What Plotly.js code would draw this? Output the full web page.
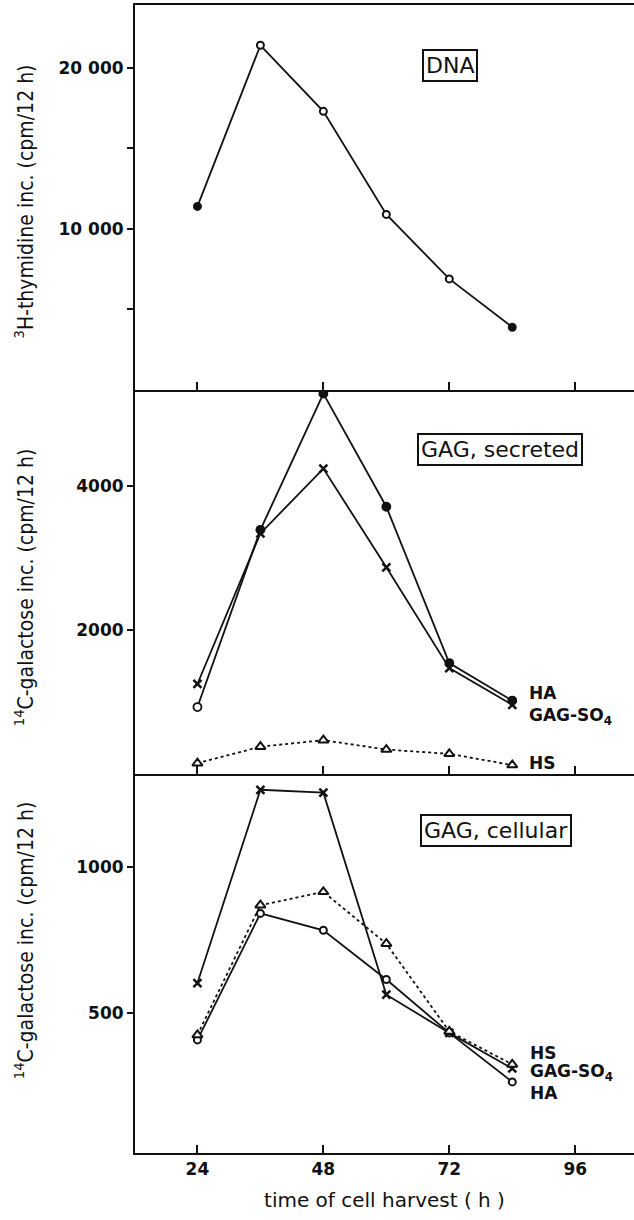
<!DOCTYPE html>
<html>
<head>
<meta charset="utf-8">
<script src="https://cdn.plot.ly/plotly-3.0.1.min.js"></script>
<style>html,body{margin:0;padding:0;background:#fff}#chart{width:634px;height:1220px}</style>
</head>
<body>
<div id="chart"></div>
<script>
// ---- data ----
const hours = [24, 36, 48, 60, 72, 84];
const xTicks = [24, 48, 72, 96];

// DNA: 3H-thymidine incorporation (cpm/12 h)
const dnaValues = [11400, 21400, 17300, 10900, 6900, 3900];

// GAG secreted: 14C-galactose incorporation (cpm/12 h)
const secretedHA = [930, 3390, 5280, 3710, 1540, 1020];
const secretedGAGSO4 = [1250, 3340, 4240, 2870, 1470, 960];
const secretedHS = [150, 380, 470, 340, 280, 125];

// GAG cellular: 14C-galactose incorporation (cpm/12 h)
const cellularHA = [408, 842, 784, 615, 432, 264];
const cellularGAGSO4 = [603, 1266, 1256, 563, 432, 310];
const cellularHS = [425, 870, 916, 738, 437, 324];

const dnaTicks = [10000, 20000];
const dnaTickText = ['10 000', '20 000'];
const dnaMinorTicks = [5000, 15000];
const secTicks = [2000, 4000];
const secTickText = ['2000', '4000'];
const celTicks = [500, 1000];
const celTickText = ['500', '1000'];

// ---- styles ----
const K = '#111';
const W = '#fff';
const lineSolid = {color: K, width: 1.8};
const lineDot = {color: K, width: 1.8, dash: 'dot'};
const mkDNA = {symbol: 'circle', size: 7, color: [K, W, W, W, W, K], line: {color: K, width: 2}};
const mkOpenCircle = {symbol: 'circle', size: 7, color: W, line: {color: K, width: 2}};
const mkSecHA = {symbol: 'circle', size: 8, color: [W, K, K, K, K, K], line: {color: K, width: 1.8}};
const mkX = {symbol: 'x-thin-open', size: 8, color: K, line: {color: K, width: 2.5}};
const mkTri = {symbol: 'triangle-up', size: 9, color: W, line: {color: K, width: 2}};

const traces = [
  {x: hours, y: dnaValues, xaxis: 'x3', yaxis: 'y3', mode: 'lines+markers', name: 'DNA', line: lineSolid, marker: mkDNA},
  {x: hours, y: secretedHA, xaxis: 'x2', yaxis: 'y2', mode: 'lines+markers', name: 'HA secreted', line: lineSolid, marker: mkSecHA},
  {x: hours, y: secretedGAGSO4, xaxis: 'x2', yaxis: 'y2', mode: 'lines+markers', name: 'GAG-SO4 secreted', line: lineSolid, marker: mkX},
  {x: hours, y: secretedHS, xaxis: 'x2', yaxis: 'y2', mode: 'lines+markers', name: 'HS secreted', line: lineDot, marker: mkTri},
  {x: hours, y: cellularHA, xaxis: 'x', yaxis: 'y', mode: 'lines+markers', name: 'HA cellular', line: lineSolid, marker: mkOpenCircle},
  {x: hours, y: cellularGAGSO4, xaxis: 'x', yaxis: 'y', mode: 'lines+markers', name: 'GAG-SO4 cellular', line: lineSolid, marker: mkX},
  {x: hours, y: cellularHS, xaxis: 'x', yaxis: 'y', mode: 'lines+markers', name: 'HS cellular', line: lineDot, marker: mkTri}
];

const tickFont = {family: 'DejaVu Sans', size: 17, color: K, weight: 'bold'};
const xRange = [12.1, 107.2];
const baseX = {
  range: xRange, tickmode: 'array', tickvals: xTicks, ticks: 'inside', ticklen: 8, tickwidth: 2,
  tickcolor: K, showline: true, linecolor: K, linewidth: 2, showgrid: false, zeroline: false, fixedrange: true
};
const baseY = {
  tickmode: 'array', ticks: 'outside', ticklen: 6, tickwidth: 2, tickcolor: K,
  showline: true, linecolor: K, linewidth: 2, showgrid: false, zeroline: false, tickfont: tickFont, fixedrange: true
};

// panel domains (paper)
const d3 = [0.6646, 1];
const d2 = [0.3301, 0.6646];
const d1 = [0, 0.3301];

const titleFont = {family: 'DejaVu Sans Condensed, DejaVu Sans', size: 21, color: K};
const boxFont = {family: 'DejaVu Sans', size: 22, color: K};
const lblFont = {family: 'DejaVu Sans', size: 17, color: K, weight: 'bold'};

function boxNote(text, x, y) {
  return {text: text, xref: 'paper', yref: 'paper', x: x, y: y, xanchor: 'center', yanchor: 'middle',
    showarrow: false, font: boxFont, bordercolor: K, borderwidth: 2, borderpad: 2, bgcolor: W};
}
function sideLabel(text, x, y) {
  return {text: text, xref: 'paper', yref: 'paper', x: x, y: y, xanchor: 'left', yanchor: 'middle', showarrow: false, font: lblFont};
}
function yTitle(text, y) {
  return {text: text, xref: 'paper', yref: 'paper', x: -0.222, y: y, textangle: -90, showarrow: false,
    font: titleFont, xanchor: 'center', yanchor: 'middle'};
}

const layout = {
  width: 634, height: 1220,
  margin: {l: 135, r: 0, t: 5, b: 67},
  paper_bgcolor: W, plot_bgcolor: W,
  showlegend: false,
  xaxis: Object.assign({}, baseX, {anchor: 'y', domain: [0, 1], tickfont: tickFont,
    title: {text: 'time of cell harvest ( h )', font: {family: 'DejaVu Sans', size: 20, color: K}, standoff: 15}}),
  xaxis2: Object.assign({}, baseX, {anchor: 'y2', domain: [0, 1], showticklabels: false, matches: 'x'}),
  xaxis3: Object.assign({}, baseX, {anchor: 'y3', domain: [0, 1], showticklabels: false, matches: 'x', mirror: true}),
  yaxis: Object.assign({}, baseY, {domain: d1, anchor: 'x', range: [20, 1320], tickvals: celTicks, ticktext: celTickText}),
  yaxis2: Object.assign({}, baseY, {domain: d2, anchor: 'x2', range: [0, 5330], tickvals: secTicks, ticktext: secTickText}),
  yaxis3: Object.assign({}, baseY, {domain: d3, anchor: 'x3', range: [0, 23900], tickvals: dnaTicks, ticktext: dnaTickText,
    minor: {tickmode: 'array', tickvals: dnaMinorTicks, ticks: 'outside', ticklen: 6, tickwidth: 2, tickcolor: K}}),
  annotations: [
    yTitle('<sup>3</sup>H-thymidine inc. (cpm/12 h)', 0.829),
    yTitle('<sup>14</sup>C-galactose inc. (cpm/12 h)', 0.493),
    yTitle('<sup>14</sup>C-galactose inc. (cpm/12 h)', 0.1855),
    boxNote('DNA', 0.6313, 0.9473),
    boxNote('GAG, secreted', 0.7315, 0.6132),
    boxNote('GAG, cellular', 0.7234, 0.2805),
    sideLabel('HA', 0.7856, 0.4007),
    sideLabel('GAG-SO<sub>4</sub>', 0.7856, 0.3798),
    sideLabel('HS', 0.7856, 0.3397),
    sideLabel('HS', 0.7876, 0.0871),
    sideLabel('GAG-SO<sub>4</sub>', 0.7876, 0.0697),
    sideLabel('HA', 0.7876, 0.0523)
  ]
};

Plotly.newPlot('chart', traces, layout, {staticPlot: true, displayModeBar: false});
</script>
</body>
</html>
